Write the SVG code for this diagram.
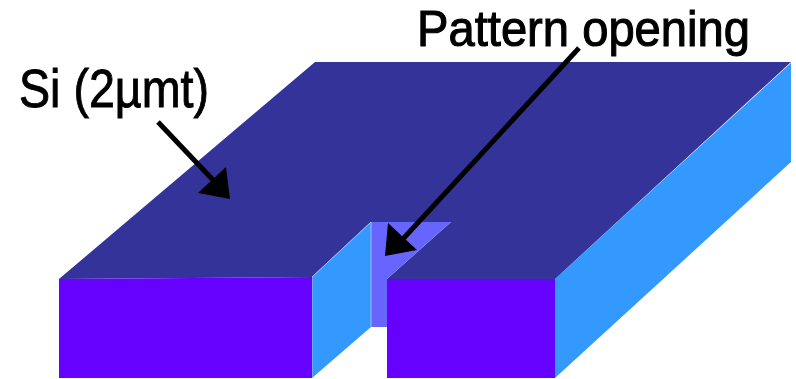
<svg xmlns="http://www.w3.org/2000/svg" width="796" height="379" viewBox="0 0 796 379">
<style>
.top{fill:#333399}.front{fill:#6600ff}.side{fill:#3399ff}.inner{fill:#6666ff}
.lbl{font-family:"Liberation Sans",Arial,sans-serif;font-size:53px;fill:#000;stroke:#000;stroke-width:.9}
.lbl2{font-size:50.5px;stroke-width:1.1}
.ln{stroke:#000;stroke-width:5;fill:none}.hd{fill:#000}
.edge{fill:none;stroke:#a8b8f0;stroke-width:1}
</style>
<rect width="796" height="379" fill="#fff"/>
<g id="si-block">
<polygon class="side" points="555,279 791,63 791,162 555,378"/>
<polygon class="top" points="59,279 315,62 791,62 555,279 387,279 451,222 371,222 312,277"/>
<polygon class="inner" points="371,222 451,222 387,279 387,327 371,327"/>
<polygon class="side" points="312,277 371,222 371,327 312,378"/>
<path class="edge" d="M312,378V277L371,222V327"/>
<polygon class="front" points="59,279 312,277 312,378 59,378"/>
<rect class="front" x="387" y="279" width="168" height="99"/>
</g>
<g id="label-si"><text class="lbl" x="19" y="107" textLength="190" lengthAdjust="spacingAndGlyphs">Si (2µmt)</text></g>
<g id="label-pattern"><text class="lbl lbl2" x="417" y="46" textLength="333" lengthAdjust="spacingAndGlyphs">Pattern opening</text></g>
<g id="connectors">
<line class="ln" x1="158" y1="122" x2="214" y2="181"/>
<polygon class="hd" points="230,199 198,193 226,167"/>
<line class="ln" x1="579" y1="48" x2="402" y2="240"/>
<polygon class="hd" points="385,256 388,223 417,250"/>
</g>
</svg>
